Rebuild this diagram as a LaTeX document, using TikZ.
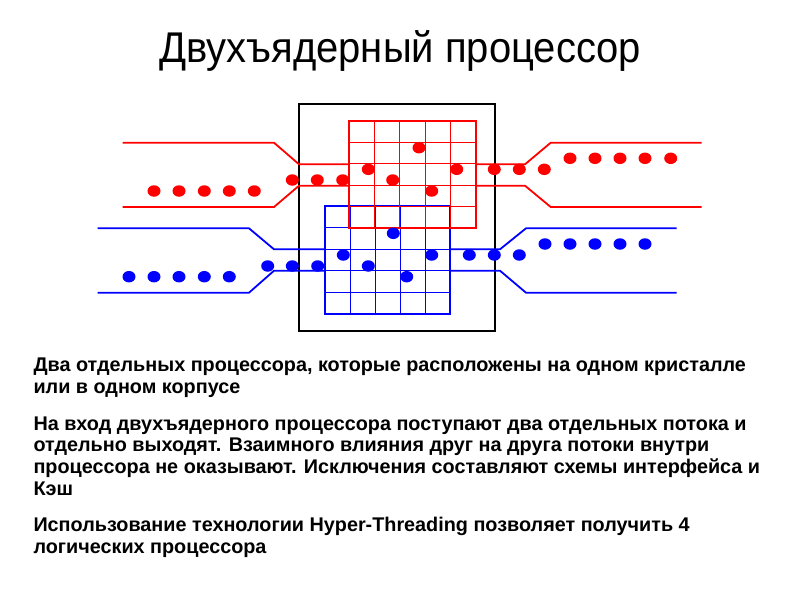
\documentclass[tikz,border=0pt]{standalone}
\usepackage{fontspec}
\setmainfont{Liberation Sans}
\newfontfamily\titlefont[FakeStretch=0.93]{Liberation Sans}
\usetikzlibrary{shapes.geometric}
\begin{document}
\begin{tikzpicture}[x=1pt,y=-1pt,
  rdot/.style={ellipse,fill=red,draw=none,minimum width=13pt,minimum height=11.5pt,inner sep=0pt},
  bdot/.style={ellipse,fill=blue,draw=none,minimum width=13pt,minimum height=11.5pt,inner sep=0pt},
  rline/.style={draw=red,line width=1.8pt},
  bline/.style={draw=blue,line width=1.8pt},
  rthin/.style={draw=red,line width=0.8pt},
  bthin/.style={draw=blue,line width=0.8pt},
  body/.style={anchor=base west,inner sep=0pt,font=\fontsize{19.8}{22}\selectfont\bfseries}]
\useasboundingbox (0,0) rectangle (800,600);
\fill[white] (0,0) rectangle (800,600);
% title
\node[anchor=base,inner sep=0pt,font=\titlefont\fontsize{43}{50}\selectfont] (title) at (400,62) {Двухъядерный процессор};
% chip box
\draw[black,line width=2.5pt] (299,104) rectangle (495,331);
% blue grid
\foreach \i in {1,2,3,4} {\draw[bthin] (325+25*\i,206) -- (325+25*\i,314);
  \draw[bthin] (325,206+21.6*\i) -- (450,206+21.6*\i);}
\draw[blue,line width=1.8pt] (325,206) rectangle (450,314);
% red grid
\foreach \i in {1,2,3,4} {\draw[rthin] (349+25.4*\i,121) -- (349+25.4*\i,228);
  \draw[rthin] (349,121+21.4*\i) -- (476,121+21.4*\i);}
\draw[red,line width=1.8pt] (349,121) rectangle (476,228);
% red streams
\draw[rline] (122.7,142.7) -- (274,142.7) -- (299,164.3) -- (349,164.3);
\draw[rline] (122.7,207) -- (274,207) -- (299,185.7) -- (349,185.7);
\draw[rline] (476,164.3) -- (525,164.3) -- (550.7,142.7) -- (701.7,142.7);
\draw[rline] (476,185.7) -- (525,185.7) -- (550.7,207) -- (701.7,207);
% blue streams
\draw[bline] (97.7,228.3) -- (249,228.3) -- (274,249.3) -- (325,249.3);
\draw[bline] (97.7,292.7) -- (249,292.7) -- (274,270.7) -- (325,270.7);
\draw[bline] (450,249.3) -- (500,249.3) -- (526,228.3) -- (676.7,228.3);
\draw[bline] (450,270.7) -- (500,270.7) -- (526,292.7) -- (676.7,292.7);
% red dots
\foreach \x [count=\k] in {154,179,204.3,229.3,254.3} \node[rdot] (rl\k) at (\x,191) {};
\foreach \x [count=\k] in {292.3,317.3,342.7} \node[rdot] (ri\k) at (\x,180) {};
\node[rdot] (rc1) at (368.3,169.3) {};
\node[rdot] (rc2) at (392.7,180) {};
\node[rdot] (rc3) at (419,147.7) {};
\node[rdot] (rc4) at (431.7,191) {};
\node[rdot] (rc5) at (456.7,169.3) {};
\foreach \x [count=\k] in {494.3,519.3,544.3} \node[rdot] (ro\k) at (\x,169.3) {};
\foreach \x [count=\k] in {570,595,620,645,670.7} \node[rdot] (rr\k) at (\x,158.3) {};
% blue dots
\foreach \x [count=\k] in {129,154,179,204.3,229.3} \node[bdot] (bl\k) at (\x,276.7) {};
\foreach \x [count=\k] in {267.7,292.3,317.7} \node[bdot] (bi\k) at (\x,266) {};
\node[bdot] (bc1) at (343.3,255) {};
\node[bdot] (bc2) at (368.3,266) {};
\node[bdot] (bc3) at (393.3,233.3) {};
\node[bdot] (bc4) at (406.7,276.7) {};
\node[bdot] (bc5) at (431.7,255) {};
\foreach \x [count=\k] in {469.3,494.3,519.3} \node[bdot] (bo\k) at (\x,255) {};
\foreach \x [count=\k] in {545,570,595,620,645} \node[bdot] (br\k) at (\x,244) {};
% text
\node[body] (p1a) at (33.3,371.7) {Два отдельных процессора, которые расположены на одном кристалле};
\node[body] (p1b) at (33.3,393.3) {или в одном корпусе};
\node[body] (p2a) at (33.3,430) {На вход двухъядерного процессора поступают два отдельных потока и};
\node[body] (p2b) at (33.3,451.7) {отдельно выходят. Взаимного влияния друг на друга потоки внутри};
\node[body] (p2c) at (33.3,473.3) {процессора не оказывают. Исключения составляют схемы интерфейса и};
\node[body] (p2d) at (33.3,495) {Кэш};
\node[body] (p3a) at (33.3,531.7) {Использование технологии Hyper-Threading позволяет получить 4};
\node[body] (p3b) at (33.3,553.3) {логических процессора};
\end{tikzpicture}
\end{document}
